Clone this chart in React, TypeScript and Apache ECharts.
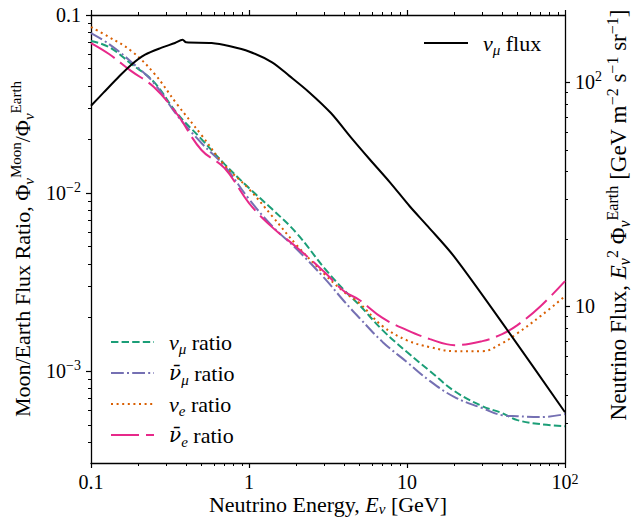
import React, { useEffect, useRef } from "react";
import * as echarts from "echarts";

// ---- data ----
const energy = [0.1, 0.13, 0.18, 0.25, 0.35, 0.5, 0.7, 1, 1.4, 2, 3, 4, 5, 7, 10, 14, 20, 30, 40, 50, 70, 100];
const numuRatio = [0.0715, 0.0661, 0.0531, 0.0421, 0.0281, 0.0201, 0.01455, 0.01067, 0.00813, 0.00596, 0.00379, 0.00285, 0.00235, 0.0017, 0.00128, 0.001, 0.000772, 0.000636, 0.000581, 0.000531, 0.000504, 0.000491];
const numubarRatio = [0.0792, 0.0687, 0.0545, 0.0415, 0.0274, 0.0191, 0.01419, 0.00925, 0.00653, 0.00485, 0.00333, 0.00247, 0.00199, 0.00146, 0.001124, 0.000879, 0.000715, 0.00062, 0.000566, 0.000558, 0.000552, 0.000574];
const nueRatio = [0.0856, 0.0752, 0.0628, 0.0472, 0.0316, 0.0212, 0.01436, 0.01053, 0.00743, 0.00511, 0.00351, 0.00278, 0.00241, 0.00179, 0.00149, 0.001364, 0.001295, 0.001295, 0.001435, 0.001633, 0.002037, 0.002636];
const nuebarRatio = [0.0696, 0.0604, 0.0484, 0.0394, 0.0278, 0.01746, 0.0138, 0.00879, 0.00644, 0.00497, 0.0036, 0.00281, 0.00251, 0.00199, 0.0017, 0.001513, 0.0014, 0.001475, 0.001615, 0.001813, 0.002317, 0.003206];

const fluxEnergy = [0.1, 0.12, 0.15, 0.18, 0.22, 0.28, 0.34, 0.38, 0.4, 0.58, 0.76, 1.0, 1.4, 1.8, 2.4, 3.3, 4.4, 5.8, 7.8, 10.4, 13.6, 20, 43, 100];
const fluxValues = [78.7, 90, 106, 120, 133, 143, 150, 155, 151, 150, 145, 137.5, 123, 107, 90.5, 73, 57, 45.4, 35.8, 28, 22.7, 16.6, 7.87, 3.37];

// ---- ticks ----
const xMajorTicks = [0.1, 1, 10, 100];
const xTickLabels = ["0.1", "1", "10", "10{sup|2}"];
const xMinorTicks = [0.2, 0.3, 0.4, 0.5, 0.6, 0.7, 0.8, 0.9, 2, 3, 4, 5, 6, 7, 8, 9, 20, 30, 40, 50, 60, 70, 80, 90];
const leftMajorTicks = [0.001, 0.01, 0.1];
const leftTickLabels = ["10{sup|\u22123}", "10{sup|\u22122}", "0.1"];
const leftMinorTicks = [0.0004, 0.0005, 0.0006, 0.0007, 0.0008, 0.0009, 0.002, 0.003, 0.004, 0.005, 0.006, 0.007, 0.008, 0.009, 0.02, 0.03, 0.04, 0.05, 0.06, 0.07, 0.08, 0.09];
const rightMajorTicks = [10, 100];
const rightTickLabels = ["10", "10{sup|2}"];
const rightMinorTicks = [3, 4, 5, 6, 7, 8, 9, 20, 30, 40, 50, 60, 70, 80, 90];

const X_MIN = 0.1, X_MAX = 100;
const L_MIN = 3.05e-4, L_MAX = 0.1;
const R_MIN = 2, R_MAX = 200;

const FONT = "'Liberation Serif', 'DejaVu Serif', serif";
const lg = (v: number) => Math.log10(v);

const richText: any = {
  i: { fontStyle: "italic", fontSize: 22, lineHeight: 28, fontFamily: FONT, color: "#000" },
  bar: { fontStyle: "italic", fontSize: 20, lineHeight: 28, fontFamily: "'DejaVu Serif', serif", color: "#000" },
  r: { fontSize: 22, lineHeight: 28, fontFamily: FONT, color: "#000" },
  sub: { fontSize: 15, lineHeight: 15, verticalAlign: "bottom", fontFamily: FONT, color: "#000" },
  subi: { fontSize: 15, lineHeight: 15, verticalAlign: "bottom", fontStyle: "italic", fontFamily: FONT, color: "#000" },
  sup: { fontSize: 15, lineHeight: 15, verticalAlign: "top", fontFamily: FONT, color: "#000" },
};
const richBig: any = {};
Object.keys(richText).forEach((k) => {
  const s = { ...richText[k] };
  s.fontSize = Math.round(s.fontSize * 23 / 22);
  richBig[k] = s;
});
const richX: any = {};
Object.keys(richText).forEach((k) => {
  const s = { ...richText[k] };
  if (s.lineHeight === 28) s.lineHeight = 23;
  richX[k] = s;
});
const tickRich: any = {
  sup: { fontSize: 14, lineHeight: 14, verticalAlign: "top", fontFamily: FONT, color: "#000" },
};

const legendNames: Record<string, string> = {
  numu: "{i|\u03bd}{subi|\u03bc}{r| ratio}",
  numubar: "{bar|\u03bd\u0304}{subi|\u03bc}{r| ratio}",
  nue: "{i|\u03bd}{subi|e}{r| ratio}",
  nuebar: "{bar|\u03bd\u0304}{subi|e}{r| ratio}",
  flux: "{i|\u03bd}{subi|\u03bc}{r| flux}",
};

function labelFor(values: number[], labels: string[]) {
  return (v: number) => {
    for (let k = 0; k < values.length; k++) {
      if (Math.abs(lg(values[k]) - v) < 1e-6) return labels[k];
    }
    return "";
  };
}

const axisBlack = { color: "#000", width: 1.3 };

function decoAxis(extra: any) {
  return {
    type: "value",
    splitLine: { show: false },
    axisLine: { show: false, onZero: false, lineStyle: axisBlack },
    axisLabel: { show: false },
    axisTick: { show: false },
    nameMoveOverlap: false,
    ...extra,
  };
}

export default function App() {
  const ref = useRef<HTMLDivElement>(null);
  useEffect(() => {
    if (!ref.current) return;
    const chart = echarts.init(ref.current, null, { renderer: "svg" });
    const mk = (vals: number[]) => energy.map((e, i) => [e, vals[i]]);
    const majorTick = (vals: number[]) => ({
      show: true, inside: false, length: 5, customValues: vals.map(lg), lineStyle: { color: "#000", width: 1.2 },
    });
    const minorTick = (vals: number[]) => ({
      show: true, inside: false, length: 3, customValues: vals.map(lg), lineStyle: { color: "#000", width: 1 },
    });
    const legendCommon = {
      orient: "vertical", padding: 0, selectedMode: false, itemHeight: 14,
      itemStyle: { opacity: 0 },
      formatter: (n: string) => legendNames[n],
      textStyle: { fontSize: 22, lineHeight: 28, fontFamily: FONT, color: "#000", rich: richText, padding: [0, 0, 0, 10] },
    };
    const option: any = {
      animation: false,
      backgroundColor: "#fff",
      grid: { left: 91, top: 15, width: 474, height: 448, outerBoundsMode: "none", containLabel: false },
      xAxis: [
        { type: "log", logBase: 10, min: X_MIN, max: X_MAX, show: false, gridIndex: 0 },
        decoAxis({
          position: "bottom", min: lg(X_MIN), max: lg(X_MAX),
          axisLine: { show: true, onZero: false, lineStyle: axisBlack },
          axisTick: majorTick(xMajorTicks),
          axisLabel: {
            show: true, customValues: xMajorTicks.map(lg), formatter: labelFor(xMajorTicks, xTickLabels),
            color: "#000", fontSize: 20, fontFamily: FONT, margin: 9, lineHeight: 20, rich: tickRich,
            showMinLabel: true, showMaxLabel: true,
          },
          name: "{r|Neutrino Energy, }{i|E}{subi|\u03bd}{r| [GeV]}",
          nameLocation: "middle", nameGap: 30,
          nameTextStyle: { fontSize: 22, lineHeight: 23, fontFamily: FONT, color: "#000", rich: richX },
        }),
        decoAxis({ position: "bottom", min: lg(X_MIN), max: lg(X_MAX), axisTick: minorTick(xMinorTicks) }),
        decoAxis({
          position: "top", min: lg(X_MIN), max: lg(X_MAX),
          axisLine: { show: true, onZero: false, lineStyle: axisBlack },
          axisTick: majorTick(xMajorTicks),
        }),
        decoAxis({ position: "top", min: lg(X_MIN), max: lg(X_MAX), axisTick: minorTick(xMinorTicks) }),
      ],
      yAxis: [
        { type: "log", logBase: 10, min: L_MIN, max: L_MAX, show: false, position: "left" },
        { type: "log", logBase: 10, min: R_MIN, max: R_MAX, show: false, position: "right" },
        decoAxis({
          position: "left", min: lg(L_MIN), max: lg(L_MAX),
          axisLine: { show: true, onZero: false, lineStyle: axisBlack },
          axisTick: majorTick(leftMajorTicks),
          axisLabel: {
            show: true, customValues: leftMajorTicks.map(lg), formatter: labelFor(leftMajorTicks, leftTickLabels),
            color: "#000", fontSize: 20, fontFamily: FONT, margin: 10, lineHeight: 26, rich: tickRich,
            showMinLabel: true, showMaxLabel: true,
          },
          name: "{r|Moon/Earth Flux Ratio, }{r|\u03a6}{subi|\u03bd}{sup|Moon}{r|/}{r|\u03a6}{subi|\u03bd}{sup|Earth}",
          nameLocation: "middle", nameRotate: 90, nameGap: 55,
          nameTextStyle: { fontSize: 22, lineHeight: 28, fontFamily: FONT, color: "#000", rich: richText, padding: [0, 20, 0, 0] },
        }),
        decoAxis({ position: "left", min: lg(L_MIN), max: lg(L_MAX), axisTick: minorTick(leftMinorTicks) }),
        decoAxis({
          position: "right", min: lg(R_MIN), max: lg(R_MAX),
          axisLine: { show: true, onZero: false, lineStyle: axisBlack },
          axisTick: majorTick(rightMajorTicks),
          axisLabel: {
            show: true, customValues: rightMajorTicks.map(lg), formatter: labelFor(rightMajorTicks, rightTickLabels),
            color: "#000", fontSize: 20, fontFamily: FONT, margin: 10, lineHeight: 26, rich: tickRich,
            showMinLabel: true, showMaxLabel: true,
          },
          name: "{r|Neutrino Flux, }{i|E}{subi|\u03bd}{sup|2}{r| \u03a6}{subi|\u03bd}{sup|Earth}{r| [GeV m}{sup|\u22122}{r| s}{sup|\u22121}{r| sr}{sup|\u22121}{r|]}",
          nameLocation: "middle", nameRotate: 90, nameGap: 39,
          nameTextStyle: { fontSize: 23, lineHeight: 28, fontFamily: FONT, color: "#000", rich: richBig, padding: [0, 0, 0, 48] },
        }),
        decoAxis({ position: "right", min: lg(R_MIN), max: lg(R_MAX), axisTick: minorTick(rightMinorTicks) }),
      ],
      legend: [
        {
          ...legendCommon,
          data: ["numu", "numubar", "nue", "nuebar"],
          left: 110, top: 328, itemGap: 3, itemWidth: 43,
        },
        {
          ...legendCommon,
          data: ["flux"],
          left: 423, top: 29, itemWidth: 44,
        },
      ],
      series: [
        {
          type: "line", name: "numu", data: mk(numuRatio), xAxisIndex: 0, yAxisIndex: 0,
          symbol: "none", smooth: 0.4,
          lineStyle: { color: "#1b9e77", width: 2, type: [7.4, 3.2] }, itemStyle: { color: "#1b9e77" },
        },
        {
          type: "line", name: "numubar", data: mk(numubarRatio), xAxisIndex: 0, yAxisIndex: 0,
          symbol: "none", smooth: 0.4,
          lineStyle: { color: "#7570b3", width: 2, type: [12.8, 3.2, 2, 3.2] }, itemStyle: { color: "#7570b3" },
        },
        {
          type: "line", name: "nue", data: mk(nueRatio), xAxisIndex: 0, yAxisIndex: 0,
          symbol: "none", smooth: 0.4,
          lineStyle: { color: "#d95f02", width: 2, type: [2, 3.6] }, itemStyle: { color: "#d95f02" },
        },
        {
          type: "line", name: "nuebar", data: mk(nuebarRatio), xAxisIndex: 0, yAxisIndex: 0,
          symbol: "none", smooth: 0.4,
          lineStyle: { color: "#e7298a", width: 2, type: [28, 7] }, itemStyle: { color: "#e7298a" },
        },
        {
          type: "line", name: "flux", data: fluxEnergy.map((e, i) => [e, fluxValues[i]]), xAxisIndex: 0, yAxisIndex: 1,
          symbol: "none", smooth: 0.3,
          lineStyle: { color: "#000", width: 2 }, itemStyle: { color: "#000" },
        },
      ],
    };
    chart.setOption(option);
    return () => chart.dispose();
  }, []);
  return (
    <div
      ref={ref}
      style={{ position: "fixed", left: 0, top: 0, width: 631, height: 518, background: "#fff" }}
    />
  );
}
